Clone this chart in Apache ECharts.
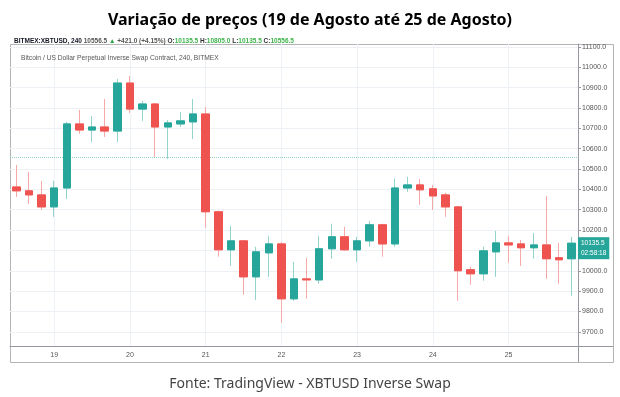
<!DOCTYPE html>
<html>
<head>
<meta charset="UTF-8">
<title>Variação de preços</title>
<script type="text/javascript" src="https://cdn.jsdelivr.net/npm/echarts@6/dist/echarts.min.js"></script>
</head>
<body style="margin:0;background:#fff">
<div id="box" style="width:620px;height:397px;"></div>
<script type="text/javascript">
// candles de 4h (BITMEX:XBTUSD, 240)
var categories = [
  '18 12:00', '18 16:00', '18 20:00',
  '19 00:00', '19 04:00', '19 08:00', '19 12:00', '19 16:00', '19 20:00',
  '20 00:00', '20 04:00', '20 08:00', '20 12:00', '20 16:00', '20 20:00',
  '21 00:00', '21 04:00', '21 08:00', '21 12:00', '21 16:00', '21 20:00',
  '22 00:00', '22 04:00', '22 08:00', '22 12:00', '22 16:00', '22 20:00',
  '23 00:00', '23 04:00', '23 08:00', '23 12:00', '23 16:00', '23 20:00',
  '24 00:00', '24 04:00', '24 08:00', '24 12:00', '24 16:00', '24 20:00',
  '25 00:00', '25 04:00', '25 08:00', '25 12:00', '25 16:00', '25 20:00'
];
var openPrices = [
  10412, 10393, 10373,
  10314, 10407, 10722, 10692, 10707, 10687,
  10923, 10795, 10820, 10707, 10722, 10732,
  10771, 10290, 10103, 10147, 9970, 10088,
  10132, 9862, 9960, 9955, 10108, 10167,
  10103, 10147, 10226, 10132, 10407, 10422,
  10403, 10373, 10314, 10005, 9985, 10093,
  10137, 10132, 10113, 10127, 10064, 10059
];
var closePrices = [
  10393, 10373, 10314,
  10407, 10722, 10692, 10707, 10687, 10923,
  10795, 10820, 10707, 10727, 10737, 10771,
  10290, 10103, 10147, 9970, 10093, 10132,
  9862, 9960, 9955, 10108, 10167, 10103,
  10147, 10226, 10132, 10407, 10422, 10398,
  10368, 10314, 10000, 9985, 10098, 10137,
  10127, 10113, 10127, 10059, 10054, 10135.5
];
var lowPrices = [
  10363, 10329, 10299,
  10265, 10353, 10673, 10633, 10658, 10633,
  10776, 10737, 10560, 10550, 10707, 10648,
  10211, 10069, 10024, 9882, 9857, 9970,
  9744, 9852, 9862, 9936, 10059, 10098,
  10044, 10118, 10069, 10118, 10388, 10324,
  10299, 10265, 9852, 9931, 9951, 9970,
  10039, 10024, 10059, 9960, 9936, 9877
];
var highPrices = [
  10520, 10486, 10442,
  10442, 10732, 10791, 10761, 10845, 10943,
  10958, 10835, 10825, 10741, 10781, 10845,
  10805, 10295, 10221, 10152, 10118, 10172,
  10142, 10044, 10064, 10172, 10231, 10216,
  10167, 10245, 10231, 10452, 10462, 10452,
  10422, 10383, 10319, 10020, 10118, 10196,
  10172, 10152, 10186, 10368, 10137, 10167
];
var yTicks = [9700, 9800, 9900, 10000, 10100, 10200, 10300, 10400, 10500,
  10600, 10700, 10800, 10900, 11000, 11100];
var refPrice = 10556.5;   // linha horizontal pontilhada
var countdown = '02:58:18';

var wicks = [], bodies = [];
for (var i = 0; i < categories.length; i++) {
  wicks.push([openPrices[i], closePrices[i], lowPrices[i], highPrices[i]]);
  bodies.push([openPrices[i], closePrices[i],
    Math.min(openPrices[i], closePrices[i]), Math.max(openPrices[i], closePrices[i])]);
}
var dayStarts = categories.filter(function (c) { return c.indexOf('00:00') > 0; });
var lastClose = closePrices[closePrices.length - 1];

var up = '#26a69a', down = '#ef5350';
var tvFont = 'Liberation Sans';
var gridColor = '#edf1f5';

var gridLines = dayStarts.map(function (d) {
  return { xAxis: d, lineStyle: { color: gridColor, type: 'solid', width: 1 } };
}).concat(yTicks.map(function (v) {
  return { yAxis: v, lineStyle: { color: gridColor, type: 'solid', width: 1 } };
}));

var myChart = echarts.init(document.getElementById('box'));
myChart.setOption({
  animation: false,
  textStyle: { fontFamily: tvFont },
  title: [{
    text: 'Variação de preços (19 de Agosto até 25 de Agosto)',
    left: 'center', top: 7,
    textStyle: { fontFamily: 'Noto Sans', fontWeight: 'bold', fontSize: 16, color: '#000' }
  }, {
    text: '{b|BITMEX:XBTUSD, 240} {g|10556.5} {t|▲} {g|+421.0 (+4.15%)} {k|O:}{v|10135.5} {k|H:}{v|10805.0} {k|L:}{v|10135.5} {k|C:}{v|10556.5}',
    left: 9, top: 33,
    textStyle: {
      fontSize: 6.5, fontFamily: tvFont,
      rich: {
        b: { fontWeight: 'bold', color: '#131722', fontSize: 6.5, fontFamily: tvFont },
        g: { color: '#555', fontSize: 6.5, fontFamily: tvFont },
        t: { color: '#26a644', fontSize: 6.5, fontFamily: tvFont },
        k: { color: '#333', fontSize: 6.5, fontFamily: tvFont },
        v: { color: '#3db34a', fontSize: 6.5, fontFamily: tvFont }
      }
    }
  }, {
    text: 'Bitcoin / US Dollar Perpetual Inverse Swap Contract, 240, BITMEX',
    left: 16, top: 50,
    textStyle: { fontSize: 6.7, fontWeight: 'normal', color: '#555', fontFamily: tvFont }
  }, {
    text: 'Fonte: TradingView - XBTUSD Inverse Swap',
    left: 'center', top: 372,
    textStyle: { fontFamily: 'Noto Sans', fontWeight: 'normal', fontSize: 14, color: '#444' }
  }],
  grid: { left: 10, right: 42, top: 44, bottom: 51 },
  xAxis: {
    type: 'category',
    data: categories,
    axisLine: { lineStyle: { color: '#9598a1' } },
    axisTick: {
      alignWithLabel: true, length: 3,
      interval: function (idx, v) { return v.indexOf('00:00') > 0; },
      lineStyle: { color: '#9598a1' }
    },
    axisLabel: {
      interval: function (idx, v) { return v.indexOf('00:00') > 0; },
      formatter: function (v) { return v.split(' ')[0]; },
      fontSize: 7, color: '#555', margin: 6
    },
    splitLine: { show: false }
  },
  yAxis: {
    type: 'value',
    position: 'right',
    min: 9630, max: 11115,
    axisLine: { show: true, lineStyle: { color: '#9598a1' } },
    axisTick: { show: true, length: 3, customValues: yTicks, lineStyle: { color: '#9598a1' } },
    axisLabel: {
      fontSize: 7, color: '#555', margin: 4, customValues: yTicks,
      formatter: function (v) { return v.toFixed(1); }
    },
    splitLine: { show: false }
  },
  graphic: [
    { type: 'rect', shape: { x: 10.5, y: 44.5, width: 603, height: 318 },
      style: { fill: null, stroke: '#b4b4b4', lineWidth: 1 }, silent: true },
    { type: 'line', shape: { x1: 578.5, y1: 346, x2: 578.5, y2: 362 },
      style: { stroke: '#9598a1' }, silent: true },
    { type: 'line', shape: { x1: 578, y1: 346.5, x2: 613, y2: 346.5 },
      style: { stroke: '#9598a1' }, silent: true }
  ],
  series: [{
    name: 'wick',
    type: 'candlestick',
    data: wicks,
    barWidth: 8,
    silent: true,
    z: 3,
    itemStyle: { color: '#92d3cc', color0: '#f7a9a7', borderColor: '#92d3cc', borderColor0: '#f7a9a7', borderWidth: 1 },
    markLine: {
      silent: true, symbol: 'none', animation: false, z: 1,
      label: { show: false },
      data: gridLines.concat([
        { yAxis: refPrice, lineStyle: { color: '#8fd0c8', type: 'dotted', width: 1 } }
      ])
    }
  }, {
    name: 'XBTUSD',
    type: 'candlestick',
    data: bodies,
    barWidth: 8,
    silent: true,
    z: 4,
    itemStyle: { color: up, color0: down, borderColor: up, borderColor0: down, borderWidth: 1 },
    markLine: {
      silent: true, symbol: 'none', animation: false, z: 10,
      lineStyle: { color: 'rgba(0,0,0,0)', width: 0 },
      label: {
        show: true, position: 'end', distance: 0, offset: [0, 5],
        formatter: function () { return lastClose.toFixed(1) + '\n' + countdown; },
        backgroundColor: up, color: '#fff', fontSize: 6.5, lineHeight: 10,
        padding: [1, 3, 1, 3], fontFamily: tvFont, align: 'left'
      },
      data: [{ yAxis: lastClose }]
    }
  }]
});
</script>
</body>
</html>
